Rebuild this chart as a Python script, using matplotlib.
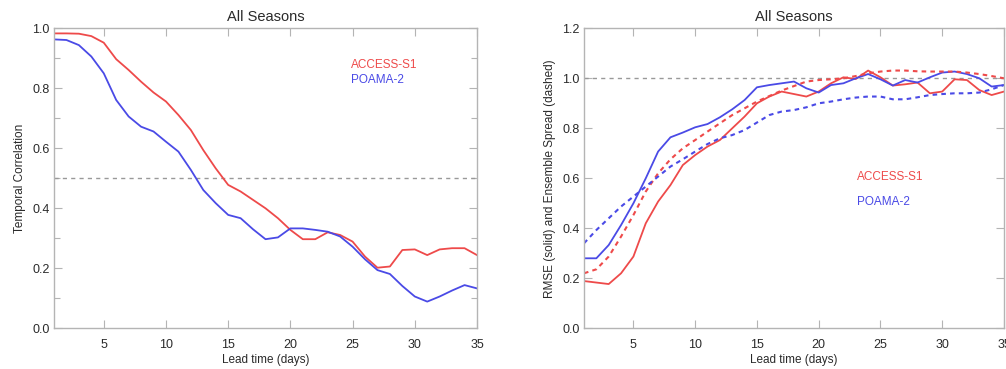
import numpy as np
import matplotlib
matplotlib.use("Agg")
import matplotlib.pyplot as plt
from matplotlib.ticker import MultipleLocator

plt.rcParams['font.family'] = ['Liberation Sans', 'DejaVu Sans']

days = np.arange(1, 36)

# temporal correlation
corr_access = [0.983, 0.983, 0.982, 0.974, 0.952, 0.897, 0.861, 0.822, 0.786, 0.756,
               0.711, 0.661, 0.594, 0.533, 0.478, 0.456, 0.428, 0.400, 0.367, 0.328,
               0.297, 0.297, 0.320, 0.311, 0.289, 0.239, 0.202, 0.206, 0.261, 0.263,
               0.244, 0.263, 0.267, 0.267, 0.244]
corr_poama = [0.963, 0.961, 0.944, 0.906, 0.850, 0.761, 0.706, 0.672, 0.656, 0.622,
              0.589, 0.528, 0.461, 0.417, 0.378, 0.367, 0.330, 0.297, 0.303, 0.333,
              0.333, 0.328, 0.322, 0.306, 0.272, 0.230, 0.194, 0.181, 0.141, 0.106,
              0.089, 0.106, 0.126, 0.144, 0.133]

# rmse (solid) and spread (dashed)
rmse_access = [0.189, 0.183, 0.177, 0.220, 0.287, 0.420, 0.507, 0.573, 0.653, 0.693,
               0.727, 0.753, 0.800, 0.847, 0.900, 0.927, 0.947, 0.937, 0.927, 0.947,
               0.980, 1.004, 0.997, 1.031, 1.004, 0.971, 0.976, 0.983, 0.940, 0.947,
               0.996, 0.993, 0.953, 0.933, 0.947]
rmse_poama = [0.280, 0.280, 0.333, 0.413, 0.500, 0.600, 0.707, 0.764, 0.783, 0.804,
              0.817, 0.844, 0.876, 0.913, 0.964, 0.973, 0.980, 0.987, 0.960, 0.943,
              0.973, 0.980, 1.000, 1.017, 0.996, 0.971, 0.993, 0.983, 1.004, 1.023,
              1.027, 1.017, 1.000, 0.967, 0.973]
spread_access = [0.220, 0.236, 0.287, 0.367, 0.453, 0.547, 0.620, 0.676, 0.720, 0.753,
                 0.787, 0.820, 0.853, 0.880, 0.907, 0.929, 0.951, 0.969, 0.987, 0.993,
                 0.996, 1.000, 1.009, 1.020, 1.027, 1.031, 1.031, 1.028, 1.027, 1.027,
                 1.027, 1.023, 1.017, 1.009, 1.000]
spread_poama = [0.340, 0.393, 0.440, 0.487, 0.527, 0.567, 0.607, 0.647, 0.676, 0.707,
                0.737, 0.760, 0.773, 0.793, 0.823, 0.853, 0.867, 0.873, 0.884, 0.900,
                0.907, 0.916, 0.923, 0.927, 0.927, 0.916, 0.916, 0.924, 0.933, 0.937,
                0.940, 0.940, 0.943, 0.956, 0.973]

red = '#ee4a4a'
blue = '#4a4ae6'
grey = '#b4b4b4'
txt = '#2a2a2a'

fig = plt.figure(figsize=(10.06, 3.69), dpi=100)
W, H = 1006, 369
ax1 = fig.add_axes([54 / W, 1 - 328.3 / H, (477 - 54) / W, 300 / H])
ax2 = fig.add_axes([584 / W, 1 - 328.3 / H, (1004 - 584) / W, 300 / H])


def style(ax, ymax, ystep, yminor):
    ax.set_xlim(1, 35)
    ax.set_ylim(0, ymax)
    ax.yaxis.set_major_locator(MultipleLocator(ystep))
    if yminor:
        ax.yaxis.set_minor_locator(MultipleLocator(yminor))
    ax.set_xticks([5, 10, 15, 20, 25, 30, 35])
    ax.tick_params(which='both', direction='in', top=True, right=True,
                   color=grey, labelcolor=txt, labelsize=9, width=0.8)
    ax.tick_params(which='major', length=6)
    ax.tick_params(which='minor', length=4)
    ax.tick_params(axis='x', pad=8)
    ax.tick_params(axis='y', pad=3)
    ax.yaxis.set_major_formatter(matplotlib.ticker.FormatStrFormatter('%.1f'))
    for s in ax.spines.values():
        s.set_color(grey)
        s.set_linewidth(1.0)
    ax.set_title('All Seasons', fontsize=10.5, color=txt, pad=5)
    ax.set_xlabel('Lead time (days)', fontsize=8.5, color=txt, labelpad=2)


# left: correlation
style(ax1, 1.0, 0.2, 0.1)
ax1.axhline(0.5, color='#999999', lw=1.0, ls=(0, (3, 3)))
ax1.plot(days, corr_access, color=red, lw=1.3)
ax1.plot(days, corr_poama, color=blue, lw=1.3)
ax1.set_ylabel('Temporal Correlation', fontsize=8.5, color=txt, labelpad=5)
ax1.text(0.703, 0.877, 'ACCESS-S1', color=red, fontsize=8.5, va='center', transform=ax1.transAxes)
ax1.text(0.703, 0.827, 'POAMA-2', color=blue, fontsize=8.5, va='center', transform=ax1.transAxes)

# right: rmse and spread
style(ax2, 1.2, 0.2, None)
ax2.axhline(1.0, color='#999999', lw=1.0, ls=(0, (3, 3)))
ax2.plot(days, rmse_access, color=red, lw=1.3)
ax2.plot(days, rmse_poama, color=blue, lw=1.3)
ax2.plot(days, spread_access, color=red, lw=1.5, ls=(0, (2.2, 2)))
ax2.plot(days, spread_poama, color=blue, lw=1.5, ls=(0, (2.2, 2)))
ax2.set_ylabel('RMSE (solid) and Ensemble Spread (dashed)', fontsize=8.5, color=txt, labelpad=5)
ax2.text(0.65, 0.504, 'ACCESS-S1', color=red, fontsize=8.5, va='center', transform=ax2.transAxes)
ax2.text(0.65, 0.421, 'POAMA-2', color=blue, fontsize=8.5, va='center', transform=ax2.transAxes)

fig.savefig('out.png', dpi=100)
